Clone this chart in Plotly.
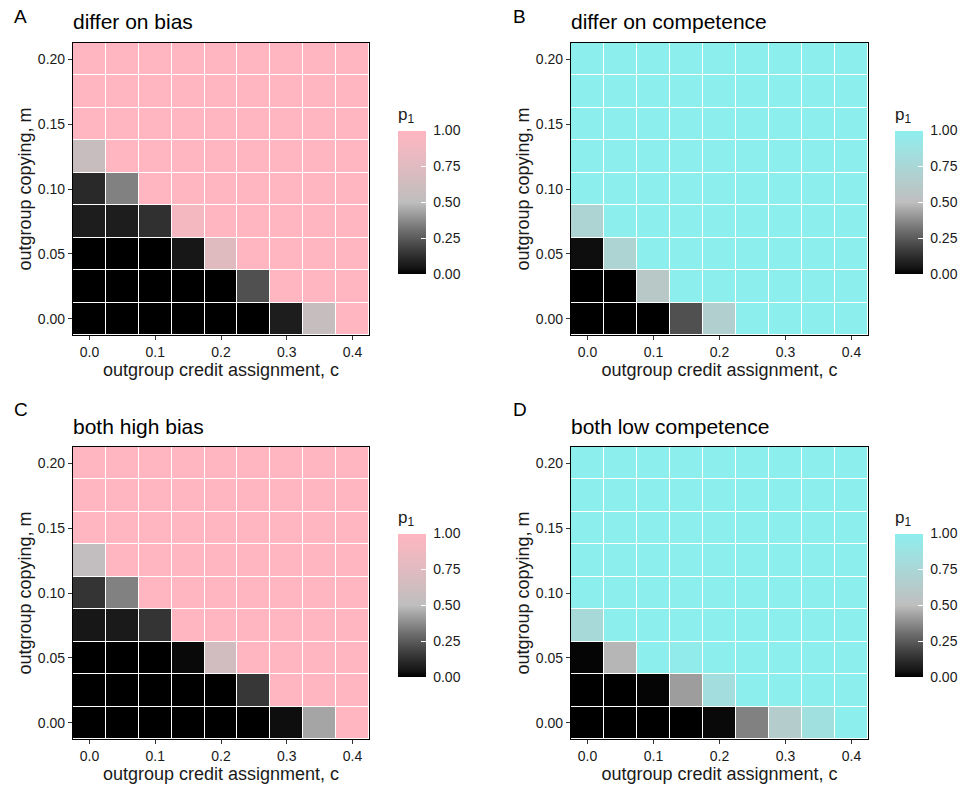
import plotly.graph_objects as go
import numpy as np

# ---------------- data ----------------
c_vals = [0.0, 0.05, 0.1, 0.15, 0.2, 0.25, 0.3, 0.35, 0.4]
m_vals = [0.0, 0.025, 0.05, 0.075, 0.1, 0.125, 0.15, 0.175, 0.2]

# rows: m from 0 (bottom) to 0.2 (top); cols: c from 0 to 0.4
p1_A = [
    [0, 0, 0, 0, 0, 0, 0.07, 0.56, 1],
    [0, 0, 0, 0, 0, 0.22, 1, 1, 1],
    [0, 0, 0, 0.05, 0.74, 1, 1, 1, 1],
    [0.07, 0.07, 0.13, 0.9, 1, 1, 1, 1, 1],
    [0.11, 0.35, 1, 1, 1, 1, 1, 1, 1],
    [0.57, 1, 1, 1, 1, 1, 1, 1, 1],
    [1, 1, 1, 1, 1, 1, 1, 1, 1],
    [1, 1, 1, 1, 1, 1, 1, 1, 1],
    [1, 1, 1, 1, 1, 1, 1, 1, 1],
]
p1_B = [
    [0, 0, 0, 0.22, 0.68, 1, 1, 1, 1],
    [0, 0, 0.6, 1, 1, 1, 1, 1, 1],
    [0.03, 0.72, 1, 1, 1, 1, 1, 1, 1],
    [0.72, 1, 1, 1, 1, 1, 1, 1, 1],
    [1, 1, 1, 1, 1, 1, 1, 1, 1],
    [1, 1, 1, 1, 1, 1, 1, 1, 1],
    [1, 1, 1, 1, 1, 1, 1, 1, 1],
    [1, 1, 1, 1, 1, 1, 1, 1, 1],
    [1, 1, 1, 1, 1, 1, 1, 1, 1],
]
p1_C = [
    [0, 0, 0, 0, 0, 0, 0.03, 0.44, 1],
    [0, 0, 0, 0, 0, 0.15, 1, 1, 1],
    [0, 0, 0, 0.02, 0.64, 1, 1, 1, 1],
    [0.05, 0.06, 0.14, 1, 1, 1, 1, 1, 1],
    [0.14, 0.35, 1, 1, 1, 1, 1, 1, 1],
    [0.53, 1, 1, 1, 1, 1, 1, 1, 1],
    [1, 1, 1, 1, 1, 1, 1, 1, 1],
    [1, 1, 1, 1, 1, 1, 1, 1, 1],
    [1, 1, 1, 1, 1, 1, 1, 1, 1],
]
p1_D = [
    [0, 0, 0, 0, 0.02, 0.35, 0.64, 0.85, 1],
    [0, 0, 0.01, 0.42, 0.82, 1, 1, 1, 1],
    [0.01, 0.48, 1, 0.97, 1, 1, 1, 1, 1],
    [0.78, 1, 1, 1, 1, 1, 1, 1, 1],
    [1, 1, 1, 1, 1, 1, 1, 1, 1],
    [1, 1, 1, 1, 1, 1, 1, 1, 1],
    [1, 1, 1, 1, 1, 1, 1, 1, 1],
    [1, 1, 1, 1, 1, 1, 1, 1, 1],
    [1, 1, 1, 1, 1, 1, 1, 1, 1],
]

panel_letters = ["A", "B", "C", "D"]
panel_titles = ["differ on bias", "differ on competence", "both high bias", "both low competence"]
x_ticks = [0.0, 0.1, 0.2, 0.3, 0.4]
y_ticks = [0.0, 0.05, 0.1, 0.15, 0.2]
cbar_ticks = [0.0, 0.25, 0.5, 0.75, 1.0]
cbar_ticktext = ["\u00a00.00", "\u00a00.25", "\u00a00.50", "\u00a00.75", "\u00a01.00"]

LOW, MID = "#000000", "#BEBEBE"
HIGH_PINK, HIGH_CYAN = "#FFB6C1", "#8DEEEE"

# ---------------- Lab interpolation (mimic ggplot gradient2) ----------------
def hex2rgb(h):
    h = h.lstrip("#")
    return np.array([int(h[i:i + 2], 16) / 255 for i in (0, 2, 4)])

def rgb2lab(rgb):
    lin = np.where(rgb <= 0.04045, rgb / 12.92, ((rgb + 0.055) / 1.055) ** 2.4)
    M = np.array([[0.4124, 0.3576, 0.1805], [0.2126, 0.7152, 0.0722], [0.0193, 0.1192, 0.9505]])
    xyz = M @ lin / np.array([0.95047, 1.0, 1.08883])
    f = np.where(xyz > 0.008856, np.cbrt(xyz), 7.787 * xyz + 16 / 116)
    return np.array([116 * f[1] - 16, 500 * (f[0] - f[1]), 200 * (f[1] - f[2])])

def lab2hex(lab):
    L, a, b = lab
    fy = (L + 16) / 116
    fx = fy + a / 500
    fz = fy - b / 200
    f = np.array([fx, fy, fz])
    xyz = np.where(f ** 3 > 0.008856, f ** 3, (f - 16 / 116) / 7.787) * np.array([0.95047, 1.0, 1.08883])
    Minv = np.array([[3.2406, -1.5372, -0.4986], [-0.9689, 1.8758, 0.0415], [0.0557, -0.2040, 1.0570]])
    lin = np.clip(Minv @ xyz, 0, 1)
    rgb = np.where(lin <= 0.0031308, 12.92 * lin, 1.055 * lin ** (1 / 2.4) - 0.055)
    rgb = np.clip(np.round(rgb * 255), 0, 255).astype(int)
    return "#%02x%02x%02x" % tuple(rgb)

def make_scale(high, n=20):
    lo, mi, hi = rgb2lab(hex2rgb(LOW)), rgb2lab(hex2rgb(MID)), rgb2lab(hex2rgb(high))
    scale = []
    for i in range(n + 1):
        t = i / n
        if t <= 0.5:
            lab = lo + (mi - lo) * (t / 0.5)
        else:
            lab = mi + (hi - mi) * ((t - 0.5) / 0.5)
        scale.append([t, lab2hex(lab)])
    return scale

scales = [make_scale(HIGH_PINK), make_scale(HIGH_CYAN), make_scale(HIGH_PINK), make_scale(HIGH_CYAN)]
data = [p1_A, p1_B, p1_C, p1_D]

# ---------------- layout geometry (pixels) ----------------
W, H = 964, 785
def px(x): return x / W
def py(y): return 1 - y / H

plot_x = [(73, 369), (571, 868), (73, 369), (571, 868)]
plot_y = [(43, 335), (43, 335), (447, 739), (447, 739)]
cbar_x = [398, 895, 398, 895]
cbar_bottom = [274, 274, 677, 677]
cbar_len = 170
label_pos = [(12, 17), (511, 17), (12, 409), (511, 409)]
title_pos = [(71, 22), (569, 22), (71, 426), (569, 426)]

FONT = "Liberation Sans, Arial, Helvetica, sans-serif"
TXT = "#1a1a1a"

fig = go.Figure()
layout = dict(
    width=W, height=H,
    margin=dict(l=0, r=0, t=0, b=0),
    paper_bgcolor="white", plot_bgcolor="white",
    font=dict(family=FONT, color=TXT),
    showlegend=False,
)
annotations = []

for i in range(4):
    sfx = "" if i == 0 else str(i + 1)
    fig.add_trace(go.Heatmap(
        x=c_vals, y=m_vals, z=data[i],
        xaxis="x" + sfx, yaxis="y" + sfx,
        coloraxis="coloraxis" + sfx,
        xgap=1, ygap=1,
        hovertemplate="c=%{x}<br>m=%{y}<br>p1=%{z}<extra></extra>",
    ))
    layout["xaxis" + sfx] = dict(
        domain=[px(plot_x[i][0]), px(plot_x[i][1])],
        anchor="y" + sfx,
        range=[-0.025, 0.425],
        tickvals=x_ticks, tickformat=".1f",
        ticks="outside", ticklen=4, tickwidth=1, tickcolor="#333333",
        showline=True, linecolor="black", linewidth=1.2, mirror=True,
        showgrid=False, zeroline=False,
        tickfont=dict(size=14, color=TXT),
        title=dict(text="outgroup credit assignment, c", font=dict(size=18, color=TXT), standoff=3),
    )
    layout["yaxis" + sfx] = dict(
        domain=[py(plot_y[i][1]), py(plot_y[i][0])],
        anchor="x" + sfx,
        range=[-0.0125, 0.2125],
        tickvals=y_ticks, tickformat=".2f",
        ticks="outside", ticklen=4, tickwidth=1, tickcolor="#333333",
        showline=True, linecolor="black", linewidth=1.2, mirror=True,
        showgrid=False, zeroline=False,
        tickfont=dict(size=14, color=TXT),
        title=dict(text="outgroup copying, m", font=dict(size=18, color=TXT), standoff=1),
    )
    layout["coloraxis" + sfx] = dict(
        cmin=0, cmax=1, colorscale=scales[i],
        colorbar=dict(
            x=px(cbar_x[i]), xanchor="left", xref="paper",
            y=py(cbar_bottom[i]), yanchor="bottom", yref="paper",
            len=cbar_len, lenmode="pixels",
            thickness=28, thicknessmode="pixels",
            outlinewidth=0, xpad=0, ypad=0,
            tickvals=cbar_ticks, ticktext=cbar_ticktext,
            ticks="inside", ticklen=5, tickcolor="white", tickwidth=1,
            tickfont=dict(size=14, color=TXT),
            title=dict(text="p<sub>1</sub>", side="top", font=dict(size=17, color=TXT)),
        ),
    )
    annotations.append(dict(
        text=panel_letters[i], x=px(label_pos[i][0]), y=py(label_pos[i][1]),
        xref="paper", yref="paper", xanchor="left", yanchor="middle",
        showarrow=False, font=dict(size=19, color="black"),
    ))
    annotations.append(dict(
        text=panel_titles[i], x=px(title_pos[i][0]), y=py(title_pos[i][1]),
        xref="paper", yref="paper", xanchor="left", yanchor="middle",
        showarrow=False, font=dict(size=21, color="black"),
    ))

layout["annotations"] = annotations
fig.update_layout(**layout)
fig.write_html("out.html")
